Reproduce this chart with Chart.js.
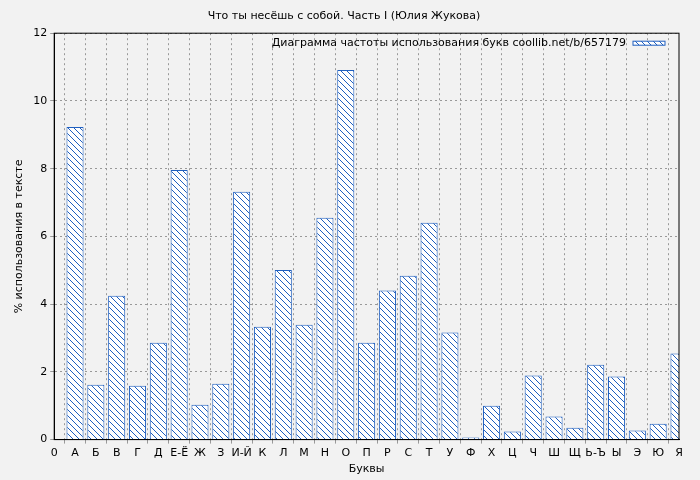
<!DOCTYPE html>
<html><head><meta charset="utf-8">
<script src="https://cdn.jsdelivr.net/npm/chart.js@4/dist/chart.umd.min.js"></script>
<style>body{margin:0;background:#f2f2f2}#wrap{width:700px;height:480px}</style>
</head><body><div id="wrap"><canvas id="c"></canvas></div>
<script>
const letters = ["0","А","Б","В","Г","Д","Е-Ё","Ж","З","И-Й","К","Л","М","Н","О","П","Р","С","Т","У","Ф","Х","Ц","Ч","Ш","Щ","Ь-Ъ","Ы","Э","Ю","Я"];
const percents = [null,9.23,1.62,4.25,1.59,2.86,7.96,1.03,1.65,7.32,3.33,5.01,3.39,6.55,10.91,2.86,4.40,4.84,6.40,3.16,0.06,1.0,0.24,1.89,0.68,0.35,2.21,1.86,0.27,0.47,2.54];
const yTicks = [0,2,4,6,8,10,12];

// diagonal hatch fill
function hatch() {
    const p = document.createElement("canvas");
    p.width = 6; p.height = 6;
    const g = p.getContext("2d");
    g.fillStyle = "#ffffff"; g.fillRect(0, 0, 6, 6);
    g.strokeStyle = "#1f5fbf"; g.lineWidth = 1;
    g.beginPath();
    g.moveTo(0, 0); g.lineTo(6, 6);
    g.moveTo(-3, 3); g.lineTo(3, 9);
    g.moveTo(3, -3); g.lineTo(9, 3);
    g.stroke();
    return g.createPattern(p, "repeat");
}

const legendBox = {
    id: "legendBox",
    afterDraw(chart) {
        const { ctx, chartArea } = chart;
        ctx.save();
        ctx.strokeStyle = "#000"; ctx.lineWidth = 1;
        ctx.strokeRect(chartArea.left, chartArea.top, chartArea.right - chartArea.left, chartArea.bottom - chartArea.top);
        ctx.font = "11px 'DejaVu Sans'";
        ctx.fillStyle = "#000";
        ctx.textAlign = "right";
        ctx.textBaseline = "middle";
        const text = "Диаграмма частоты использования букв coollib.net/b/657179";
        ctx.fillText(text, chartArea.right - 53, chartArea.top + 10);
        ctx.fillStyle = hatch();
        ctx.fillRect(chartArea.right - 46, chartArea.top + 8, 32, 4);
        ctx.strokeStyle = "#1f5fbf";
        ctx.strokeRect(chartArea.right - 46, chartArea.top + 8, 32, 4);
        ctx.restore();
    }
};

new Chart(document.getElementById("c"), {
    type: "bar",
    data: { labels: letters, datasets: [{ data: percents, backgroundColor: hatch(), borderColor: "#1f5fbf", borderWidth: 1, barPercentage: 0.82, categoryPercentage: 1 }] },
    options: {
        responsive: true, maintainAspectRatio: false, animation: false,
        layout: { padding: { left: 9, right: 21, top: 0, bottom: 4 } },
        plugins: {
            legend: { display: false },
            title: { display: true, text: "Что ты несёшь с собой. Часть I (Юлия Жукова)", color: "#000", font: { family: "DejaVu Sans", size: 11, weight: "normal" }, padding: { top: 10, bottom: 10 } }
        },
        scales: {
            x: {
                offset: false,
                grid: { color: "#999", tickLength: 4 },
                border: { color: "#000", dash: [2, 3] },
                ticks: { color: "#000", autoSkip: false, maxRotation: 0, font: { family: "DejaVu Sans", size: 11 } },
                title: { display: true, text: "Буквы", color: "#000", font: { family: "DejaVu Sans", size: 11 }, padding: 0 }
            },
            y: {
                min: 0, max: 12,
                afterBuildTicks: a => { a.ticks = yTicks.map(v => ({ value: v })); },
                grid: { color: "#999", tickLength: 4 },
                border: { color: "#000", dash: [2, 3] },
                ticks: { color: "#000", font: { family: "DejaVu Sans", size: 11 } },
                title: { display: true, text: "% использования в тексте", color: "#000", font: { family: "DejaVu Sans", size: 11 } }
            }
        }
    },
    plugins: [legendBox]
});
</script></body></html>
